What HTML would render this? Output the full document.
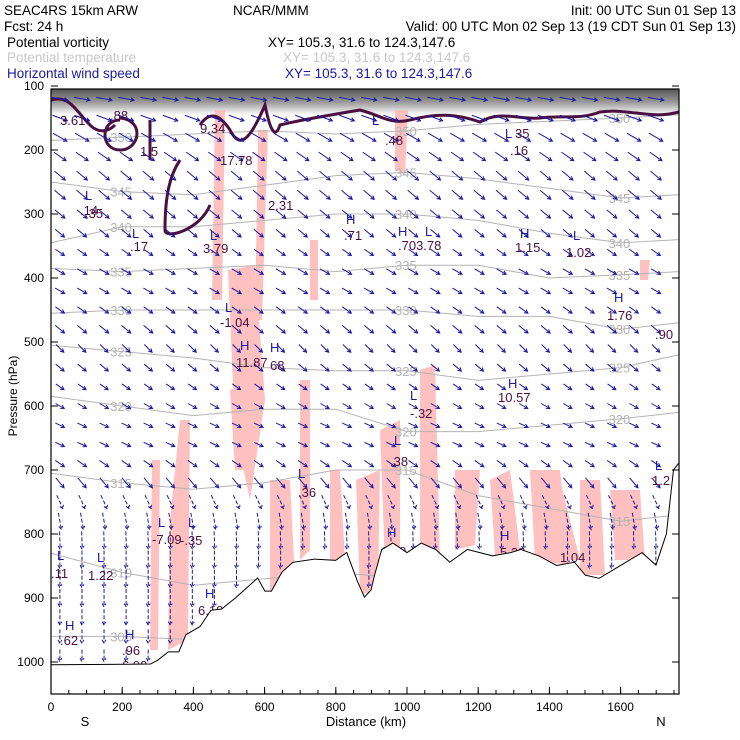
<!DOCTYPE html>
<html><head><meta charset="utf-8"><style>
html,body{margin:0;padding:0;background:#fff;}
svg{display:block;font-family:"Liberation Sans",sans-serif;}
</style></head><body>
<svg id="chart" width="740" height="740" viewBox="0 0 740 740" xmlns="http://www.w3.org/2000/svg">
<g font-size="13.5">
<text x="4" y="15">SEAC4RS 15km ARW</text>
<text x="233" y="15">NCAR/MMM</text>
<text x="736" y="15" text-anchor="end">Init: 00 UTC Sun 01 Sep 13</text>
<text x="4" y="31">Fcst:   24 h</text>
<text x="736" y="31" text-anchor="end">Valid: 00 UTC Mon 02 Sep 13 (19 CDT Sun 01 Sep 13)</text>
<text x="7" y="47">Potential vorticity</text>
<text x="268" y="47">XY= 105.3, 31.6 to 124.3,147.6</text>
<text x="7" y="62" fill="#c8c8c8">Potential temperature</text>
<text x="283" y="62" fill="#c8c8c8">XY= 105.3, 31.6 to 124.3,147.6</text>
<text x="7" y="78" fill="#1a1aa0">Horizontal wind speed</text>
<text x="285" y="78" fill="#1a1aa0">XY= 105.3, 31.6 to 124.3,147.6</text>
</g>
<defs><clipPath id="plotclip"><rect x="51" y="89" width="628" height="605"/></clipPath>
<linearGradient id="topband" x1="0" y1="0" x2="0" y2="1"><stop offset="0" stop-color="#555"/><stop offset="0.5" stop-color="#999"/><stop offset="1" stop-color="#fff"/></linearGradient></defs>
<g clip-path="url(#plotclip)">
<rect x="51" y="89" width="628" height="26" fill="url(#topband)"/>
<g id="pink" fill="#ffc0c0"></g>
<g id="theta" fill="none" stroke="#b4b4b4" stroke-width="1"></g>
<g id="pv" fill="none" stroke="#4a1040" stroke-width="3"></g>
<g id="winds" stroke="#1a1aa0" stroke-width="1" fill="none"></g>
<g id="labels" font-size="13"></g>
<path id="terrain" fill="none" stroke="#000" stroke-width="2"/>
<path id="terrainfill" fill="#fff"/>
</g>
<rect x="51" y="89" width="628" height="605" fill="none" stroke="#000" stroke-width="1.2"/>
<g id="axes" font-size="12"></g>
<text x="6" y="395" font-size="12" transform="rotate(-90 12 390)" text-anchor="middle">Pressure (hPa)</text>
<text x="366" y="726" font-size="13" text-anchor="middle">Distance (km)</text>
<text x="85" y="726" font-size="13" text-anchor="middle">S</text>
<text x="661" y="726" font-size="13" text-anchor="middle">N</text>
</svg>
<script>
const xTicks=[0,200,400,600,800,1000,1200,1400,1600];
const yTicks=[100,200,300,400,500,600,700,800,900,1000];
const terrainKm=[0,280,300,330,360,380,420,450,480,520,560,580,600,620,650,680,740,800,830,860,880,900,910,930,960,1000,1040,1080,1120,1170,1240,1290,1320,1370,1420,1470,1500,1540,1600,1660,1700,1730,1750,1764];
const terrainP=[1005,1004,998,985,985,958,945,920,918,900,880,870,890,890,860,845,840,842,830,875,900,888,865,825,815,830,815,825,845,825,835,830,825,835,850,845,865,870,850,830,850,800,700,690];
const thetaLevels=[350,345,340,335,330,325,320,315,310,305];
const thetaKm=[0,200,400,600,800,1000,1200,1400,1600,1764];
const thetaP=[
[185,180,175,170,175,170,160,155,150,145],
[250,265,270,255,240,235,245,260,275,270],
[345,320,320,310,300,300,310,330,345,340],
[385,390,385,380,390,380,380,400,395,390],
[455,450,450,450,450,450,460,460,480,470],
[505,515,525,540,545,545,560,550,540,520],
[585,600,615,605,605,640,640,630,620,610],
[705,720,730,720,700,700,740,760,780,770],
[830,860,880,870,860,870,880,880,880,880],
[960,960,965,970,980,960,960,960,960,960]];
const windRows=[120,150,180,210,240,270,300,330,360,390,420,450,480,510,540,570,600,630,660,690,720,750,780,810,840,870,900,930,960,990];
const windDir=[10,20,30,35,40,40,40,40,35,30,30,35,40,45,40,35,30,25,25,35,50,65,80,88,90,90,90,90,90,90];
const windSpd=[16,16,16,15,14,14,13,12,11,11,11,11,12,11,11,10,10,10,10,11,13,15,17,18,18,18,18,16,14,12];
const pvLabels=[["3.61",60,125],[".88",110,120],["1.5",140,156],["9.34",200,133],["17.78",220,165],["2.31",268,210],["L",372,125],[".48",385,145],["L",505,138],["35",515,138],[".16",510,155],["L",85,200],[".14",80,215],[".35",85,218],["L",132,238],[".17",130,251],["L",210,240],["3.79",203,253],["H",346,224],[".71",344,240],["H",398,236],[".703.78",398,250],["L",425,236],["H",520,238],["1.15",515,252],["L",573,240],["1.02",566,257],["H",614,302],["1.76",607,320],[".90",655,339],["L",225,312],["-1.04",220,327],["H",240,350],["11.87",236,367],["H",270,352],["68",270,370],["H",508,388],["10.57",498,402],["L",410,400],["-.32",410,418],["L",394,445],[".38",390,466],["L",298,478],[".36",298,497],["L",655,470],["1.2",652,485],["L",158,527],["-7.09",152,544],["L",188,527],["-.35",180,545],["H",387,537],["6.39",381,556],["H",500,540],["5.38",500,557],["1.04",560,562],["L",57,560],[".11",51,578],["L",97,562],["1.22",88,580],["H",205,598],["6.10",198,615],["H",65,630],[".62",60,645],["H",125,639],[".96",122,655],["6.90",122,670]];
const pinkPolys=[
[[215,110],[225,110],[222,300],[212,300]],[[258,130],[268,130],[262,320],[255,320]],[[228,270],[255,265],[265,400],[250,500],[235,430]],
[[395,110],[408,110],[405,175],[395,170]],[[180,420],[190,420],[188,640],[168,650],[170,520]],[[152,460],[160,460],[158,650],[150,650]],
[[270,480],[290,480],[295,580],[270,600]],[[300,380],[310,380],[310,550],[300,560]],[[330,470],[340,470],[345,560],[330,560]],
[[356,480],[380,470],[378,590],[360,595]],[[380,430],[400,420],[400,560],[385,565]],[[420,370],[435,365],[440,560],[420,560]],
[[455,470],[480,470],[475,545],[455,550]],[[490,480],[510,470],[520,550],[495,555]],[[530,470],[560,470],[570,565],[535,560]],
[[580,480],[600,480],[605,575],[580,575]],[[610,490],[640,490],[645,560],[615,560]],[[640,260],[650,260],[648,280],[640,280]],
[[230,390],[255,380],[250,470],[235,470]],[[310,240],[318,240],[318,300],[310,300]],[[545,490],[560,480],[580,560],[550,560]]];
const X0=51, KX=0.356, Y1000=662, KY=0.64;
function xs(km){return X0+km*KX;}
function ys(p){return Y1000-(1000-p)*KY;}
const NS="http://www.w3.org/2000/svg";
function mk(t,parent){const e=document.createElementNS(NS,t);document.getElementById(parent).appendChild(e);return e;}
function terrainAt(km){for(let i=1;i<terrainKm.length;i++){if(km<=terrainKm[i]){const f=(km-terrainKm[i-1])/(terrainKm[i]-terrainKm[i-1]);return terrainP[i-1]+f*(terrainP[i]-terrainP[i-1]);}}return terrainP[terrainP.length-1];}
// minor ticks
for(let k=50;k<1764;k+=50){const l=mk('line','axes');l.setAttribute('x1',xs(k));l.setAttribute('x2',xs(k));l.setAttribute('y1',694);l.setAttribute('y2',690);l.setAttribute('stroke','#000');

}
// axes
xTicks.forEach(v=>{const l=mk('line','axes');l.setAttribute('x1',xs(v));l.setAttribute('x2',xs(v));l.setAttribute('y1',694);l.setAttribute('y2',687);l.setAttribute('stroke','#000');


const t=mk('text','axes');t.textContent=v;t.setAttribute('x',xs(v));t.setAttribute('y',711);t.setAttribute('text-anchor','middle');

});
yTicks.forEach(v=>{const l=mk('line','axes');l.setAttribute('x1',51);l.setAttribute('x2',58);l.setAttribute('y1',ys(v));l.setAttribute('y2',ys(v));l.setAttribute('stroke','#000');


const r=mk('line','axes');r.setAttribute('x1',672);r.setAttribute('x2',679);r.setAttribute('y1',ys(v));r.setAttribute('y2',ys(v));r.setAttribute('stroke','#000');


const t=mk('text','axes');t.textContent=v;t.setAttribute('x',44);t.setAttribute('y',ys(v)+4);t.setAttribute('text-anchor','end');

});
// pink
pinkPolys.forEach(poly=>{const p=mk('polygon','pink');p.setAttribute('points',poly.map(q=>q[0]+','+q[1]).join(' '));

});
// theta
thetaLevels.forEach((lv,i)=>{const p=mk('polyline','theta');p.setAttribute('points',thetaKm.map((k,j)=>xs(k)+','+ys(thetaP[i][j])).join(' '));


[1,5,8].forEach(j=>{const t=mk('text','theta');t.textContent=lv;t.setAttribute('x',xs(thetaKm[j])-12);t.setAttribute('y',ys(thetaP[i][j])+5);t.setAttribute('fill','#b4b4b4');t.setAttribute('stroke','none');t.setAttribute('font-size','13');

});});
// pv tropopause
const pvPath=mk('path','pv');
pvPath.setAttribute('d','M51,100 C70,95 75,110 90,125 C100,135 110,130 115,125 M120,120 C100,120 100,150 120,150 C140,150 145,120 120,118 M150,120 L150,160 M180,160 C170,175 165,195 165,230 C165,240 200,230 210,205 M200,125 C210,110 220,115 230,130 C240,150 250,140 265,105 C270,130 275,140 280,125 C300,120 330,115 360,110 C380,115 390,125 410,120 C440,112 460,115 480,122 C500,110 520,120 540,118 C560,115 580,120 600,112 C630,108 650,120 679,112');


// winds
windRows.forEach((p,r)=>{for(let c=0;c<28;c++){const km=25+c*62;if(km>1760)break;if(p>terrainAt(km)-5)continue;
const x=xs(km),y=ys(p);const a=windDir[r]*Math.PI/180;const len=windSpd[r];
const dx=len*Math.cos(a),dy=len*Math.sin(a);
const l=mk('path','winds');const x2=x+dx/2,y2=y+dy/2,x1=x-dx/2,y1=y-dy/2;const ang=Math.atan2(y2-y1,x2-x1);
l.setAttribute('d',`M${x1},${y1}L${x2},${y2}M${x2-4*Math.cos(ang-0.5)},${y2-4*Math.sin(ang-0.5)}L${x2},${y2}L${x2-4*Math.cos(ang+0.5)},${y2-4*Math.sin(ang+0.5)}`);
if(r>=21)l.setAttribute('stroke-dasharray','4 2');

}});
// labels
pvLabels.forEach(L=>{const t=mk('text','labels');t.textContent=L[0];t.setAttribute('x',L[1]);t.setAttribute('y',L[2]);t.setAttribute('fill',L[0].match(/^[HL]$/)?'#1a1aa0':'#4a1040');

});
// terrain
const tp=terrainKm.map((k,i)=>xs(k)+','+ys(terrainP[i]));
document.getElementById('terrain').setAttribute('d','M'+tp.join('L'));
document.getElementById('terrainfill').setAttribute('d','M'+tp.join('L')+'L679,694L51,694Z');
</script>
</body></html>
